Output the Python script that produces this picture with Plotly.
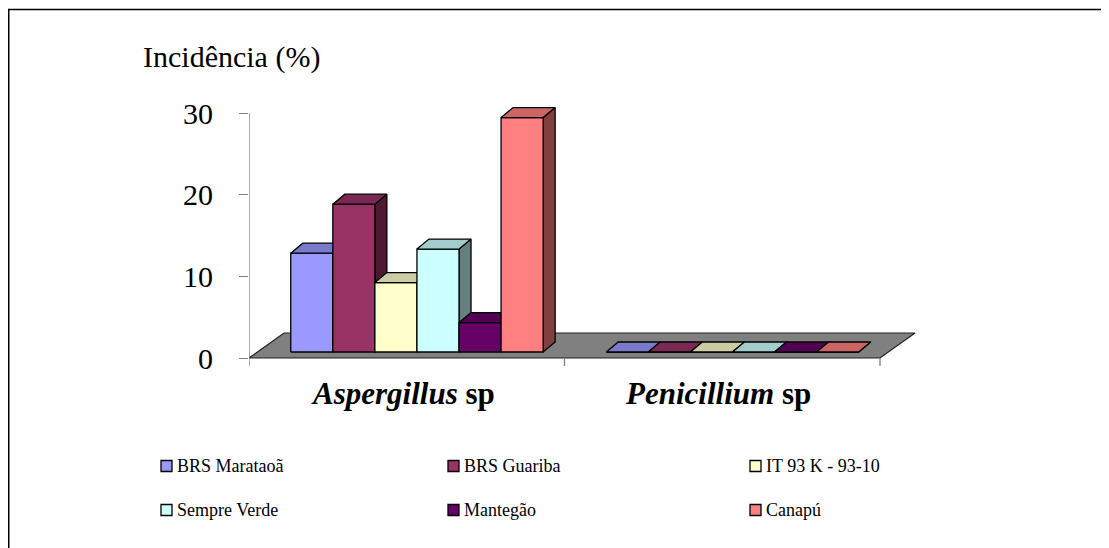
import plotly.graph_objects as go

# ---------------- data ----------------
categories = ["Aspergillus sp", "Penicillium sp"]
category_labels = ["<b><i>Aspergillus</i> sp</b>", "<b><i>Penicillium</i> sp</b>"]
series_names = ["BRS Marataoã", "BRS Guariba", "IT 93 K - 93-10",
                "Sempre Verde", "Mantegão", "Canapú"]
aspergillus = [12.1, 18.1, 8.5, 12.6, 3.6, 28.7]
penicillium = [0, 0, 0, 0, 0, 0]
y_ticks = [0, 10, 20, 30]
y_title = "Incidência (%)"

front_colors = ["#9999FF", "#993366", "#FFFFCC", "#CCFFFF", "#660066", "#FF8080"]
top_colors = ["#7A7ACC", "#7A2952", "#CCCCA3", "#A3CCCC", "#520052", "#CC6666"]
side_colors = ["#4D4D80", "#4D1A33", "#808066", "#668080", "#330033", "#804040"]

# ---------------- geometry (screen pixels; page body has an 8px margin) ----------------
OFF = 8
W, H = 1109, 548
PLOT_L, PLOT_R, PLOT_T, PLOT_B = 249, 940, 100, 370   # screen px
ML = PLOT_L - OFF
MT = PLOT_T - OFF
PLOT_W = PLOT_R - PLOT_L
PLOT_H = PLOT_B - PLOT_T
MR = W - ML - PLOT_W
MB = H - MT - PLOT_H
CAT_PX = 315.5          # pixels per category
UNIT_PX = 245 / 30      # pixels per value unit
Y0_PX = 358             # screen row of value 0
x_range = [0, PLOT_W / CAT_PX]
y_range = [-(PLOT_B - Y0_PX) / UNIT_PX, (Y0_PX - PLOT_T) / UNIT_PX]


def ddx(px):
    return px / CAT_PX


def ddy(px):
    return px / UNIT_PX


def paper_x(px):
    return (px - PLOT_L) / PLOT_W


def paper_y(py):
    return (PLOT_B - py) / PLOT_H


FONT = "Liberation Serif"
EDGE = dict(color="black", width=1.3)

fig = go.Figure()


def poly(xs, ys, fill, line=EDGE):
    fig.add_trace(go.Scatter(
        x=xs + [xs[0]], y=ys + [ys[0]], mode="lines", fill="toself",
        fillcolor=fill, line=line, hoverinfo="skip", showlegend=False))


# floor
n_cat = len(categories)
fdx, fdy = ddx(35), ddy(25)
poly([0, n_cat, n_cat + fdx, fdx], [0, 0, fdy, fdy], "#808080",
     line=dict(color="#202020", width=1.2))

# y axis line and x axis ticks
fig.add_trace(go.Scatter(x=[0, 0], y=[y_ticks[0], y_ticks[-1]], mode="lines",
                         line=dict(color="#808080", width=1.3),
                         hoverinfo="skip", showlegend=False))
for k in range(n_cat + 1):
    fig.add_trace(go.Scatter(x=[k, k], y=[0, -ddy(8)], mode="lines",
                             line=dict(color="#808080", width=1.3),
                             hoverinfo="skip", showlegend=False))

# 3-D bars
n_ser = len(series_names)
bar_w = 0.8 / n_ser
front_dx, front_dy = ddx(10.2), ddy(6)
back_dx, back_dy = ddx(12), ddy(10)
for c, vals in enumerate([aspergillus, penicillium]):
    for i, v in enumerate(vals):
        xl = c + 0.1 + i * bar_w + front_dx
        xr = xl + bar_w
        yb = front_dy
        yt = yb + v
        poly([xr, xr + back_dx, xr + back_dx, xr],
             [yb, yb + back_dy, yt + back_dy, yt], side_colors[i])
        poly([xl, xr, xr, xl], [yb, yb, yt, yt], front_colors[i])
        poly([xl, xr, xr + back_dx, xl + back_dx],
             [yt, yt, yt + back_dy, yt + back_dy], top_colors[i])

annotations = []
for c, lab in enumerate(category_labels):
    annotations.append(dict(x=c + 0.5, y=paper_y(393), xref="x", yref="paper",
                            text=lab, showarrow=False, xshift=-4,
                            font=dict(family=FONT, size=31, color="black"),
                            xanchor="center", yanchor="middle"))
annotations.append(dict(x=paper_x(141), y=paper_y(57), xref="paper", yref="paper",
                        text=y_title, showarrow=False, xanchor="left",
                        yanchor="middle",
                        font=dict(family=FONT, size=30, color="black")))

shapes = []
col_px = [161, 448, 750]
row_py = [466, 510]
sq = 11
for i, name in enumerate(series_names):
    r, cc = divmod(i, 3)
    x0 = col_px[cc]
    yc = row_py[r]
    shapes.append(dict(type="rect", xref="paper", yref="paper",
                       x0=paper_x(x0), x1=paper_x(x0 + sq),
                       y0=paper_y(yc + sq / 2), y1=paper_y(yc - sq / 2),
                       fillcolor=front_colors[i],
                       line=dict(color="black", width=1.3)))
    annotations.append(dict(x=paper_x(x0 + sq + 3), y=paper_y(yc), xref="paper",
                            yref="paper", text=name, showarrow=False,
                            xanchor="left", yanchor="middle",
                            font=dict(family=FONT, size=18, color="black")))

# outer chart border (figure edge)
shapes.append(dict(type="rect", xref="paper", yref="paper",
                   x0=paper_x(OFF + 0.75), x1=paper_x(OFF + W - 0.75),
                   y0=paper_y(OFF + H - 0.75), y1=paper_y(OFF + 1.5),
                   line=dict(color="black", width=1.5), fillcolor="rgba(0,0,0,0)"))

fig.update_layout(
    width=W, height=H,
    margin=dict(l=ML, r=MR, t=MT, b=MB, pad=0),
    paper_bgcolor="white", plot_bgcolor="rgba(0,0,0,0)",
    showlegend=False,
    font=dict(family=FONT),
    xaxis=dict(range=x_range, visible=False, fixedrange=True),
    yaxis=dict(range=y_range, tickvals=y_ticks, ticktext=[str(t) for t in y_ticks],
               ticks="outside", ticklen=9, tickcolor="#808080", tickwidth=1.3,
               showgrid=False, zeroline=False, showline=False,
               ticklabelstandoff=20,
               tickfont=dict(family=FONT, size=30, color="black"),
               fixedrange=True),
    annotations=annotations,
    shapes=shapes,
)

fig.write_html("out.html")
